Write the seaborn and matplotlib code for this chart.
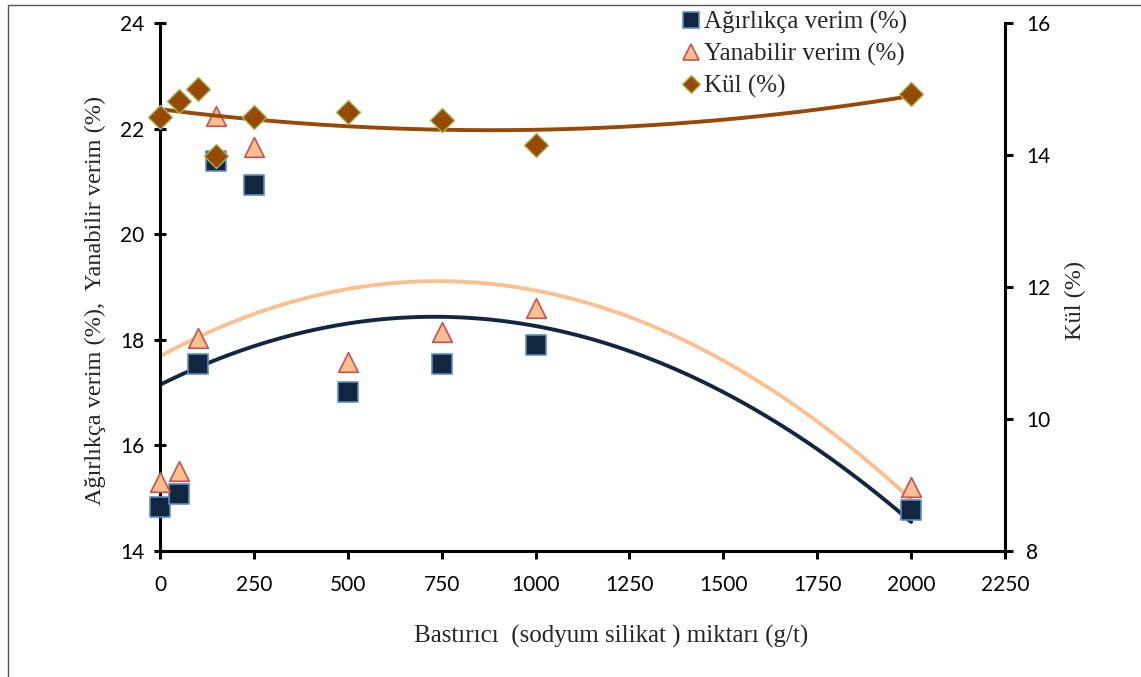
import numpy as np
import pandas as pd
import matplotlib
matplotlib.use("Agg")
import matplotlib.pyplot as plt
from matplotlib.lines import Line2D
from matplotlib.patches import Rectangle
import seaborn as sns

# Depressant dose (g/t)
dose = [0, 50, 100, 150, 250, 500, 750, 1000, 2000]
# Weight yield (%)
agirlikca = [14.83, 15.08, 17.54, 21.39, 20.93, 17.01, 17.54, 17.90, 14.78]
# Combustible yield (%)
yanabilir = [15.31, 15.51, 18.03, 22.24, 21.65, 17.58, 18.15, 18.60, 15.21]
# Ash content (%)
kul = [14.58, 14.82, 15.00, 13.98, 14.58, 14.65, 14.53, 14.15, 14.92]

x_ticks = [0, 250, 500, 750, 1000, 1250, 1500, 1750, 2000, 2250]
left_ticks = [14, 16, 18, 20, 22, 24]
right_ticks = [8, 10, 12, 14, 16]

df = pd.DataFrame({"dose": dose, "agirlikca": agirlikca,
                   "yanabilir": yanabilir, "kul": kul})

sns.set_theme(style="white")
plt.rcParams["font.family"] = ["Lato", "DejaVu Sans"]

NAVY = "#12263F"
NAVY_EDGE = "#5B8CC5"
PEACH = "#FAC08F"
PEACH_EDGE = "#C9504D"
BROWN = "#984807"
GREEN_EDGE = "#9BBB59"
SERIF = ["Liberation Serif", "DejaVu Serif"]

fig = plt.figure(figsize=(11.41, 6.77), dpi=100)
ax = fig.add_axes([160 / 1141, 1 - 551 / 677, 845 / 1141, 528 / 677])
ax2 = ax.twinx()

# quadratic trend lines
sns.regplot(data=df, x="dose", y="agirlikca", order=2, ci=None, scatter=False,
            ax=ax, line_kws=dict(color=NAVY, lw=2.8, zorder=2))
sns.regplot(data=df, x="dose", y="yanabilir", order=2, ci=None, scatter=False,
            ax=ax, line_kws=dict(color=PEACH, lw=2.8, zorder=2))
sns.regplot(data=df, x="dose", y="kul", order=2, ci=None, scatter=False,
            ax=ax2, line_kws=dict(color=BROWN, lw=2.8, zorder=2))

sns.scatterplot(data=df, x="dose", y="agirlikca", marker="s", s=190,
                color=NAVY, edgecolor=NAVY_EDGE, linewidth=1.2, ax=ax,
                zorder=3, clip_on=False)
sns.scatterplot(data=df, x="dose", y="yanabilir", marker="^", s=200,
                color=PEACH, edgecolor=PEACH_EDGE, linewidth=1.2, ax=ax,
                zorder=4, clip_on=False)
sns.scatterplot(data=df, x="dose", y="kul", marker="D", s=150,
                color=BROWN, edgecolor=GREEN_EDGE, linewidth=1.0, ax=ax2,
                zorder=3, clip_on=False)

ax.set_xlim(0, 2250)
ax.set_ylim(14, 24)
ax2.set_ylim(8, 16)
ax.set_xticks(x_ticks)
ax.set_yticks(left_ticks)
ax2.set_yticks(right_ticks)
ax.set_xlabel("")
ax.set_ylabel("")
ax2.set_ylabel("")

for a in (ax, ax2):
    a.set_facecolor("none")
    a.spines["top"].set_visible(False)
    for s in ("left", "right", "bottom"):
        a.spines[s].set_color("black")
        a.spines[s].set_linewidth(2.2)
    a.grid(False)
ax.spines["right"].set_visible(False)
ax2.spines["left"].set_visible(False)
ax2.spines["bottom"].set_visible(False)

ax.tick_params(axis="both", direction="out", length=6, width=2.2,
               labelsize=15, colors="black")
ax.tick_params(axis="y", left=True, direction="inout", length=9, pad=7)
ax.tick_params(axis="x", bottom=True, pad=11)
ax2.tick_params(axis="y", direction="out", right=True, length=6, width=2.2,
                labelsize=15, colors="black", pad=9)
ax.set_xticklabels([str(v) for v in x_ticks])

fig.text(611 / 1141, 1 - 636 / 677, "Bastırıcı  (sodyum silikat ) miktarı (g/t)",
         ha="center", va="center", fontsize=18, family=SERIF)
fig.text(95 / 1141, 1 - 300 / 677, "Ağırlıkça verim (%),  Yanabilir verim (%)",
         ha="center", va="center", rotation=90, fontsize=17.5, family=SERIF)
fig.text(1075 / 1141, 1 - 300 / 677, "Kül (%)",
         ha="center", va="center", rotation=90, fontsize=17.5, family=SERIF)

handles = [
    Line2D([], [], ls="none", marker="s", ms=11, mfc=NAVY, mec=NAVY_EDGE, mew=1.2),
    Line2D([], [], ls="none", marker="^", ms=12, mfc=PEACH, mec=PEACH_EDGE, mew=1.2),
    Line2D([], [], ls="none", marker="D", ms=9, mfc=BROWN, mec=GREEN_EDGE, mew=1.0),
]
labels = ["Ağırlıkça verim (%)", "Yanabilir verim (%)", "Kül (%)"]
leg = fig.legend(handles, labels, loc="upper left",
                 bbox_to_anchor=(682 / 1141, 1 - 11 / 677), frameon=False,
                 prop={"family": SERIF, "size": 18}, handlelength=0.7,
                 handletextpad=0.2, labelspacing=0.36, borderaxespad=0,
                 borderpad=0)

# outer frame of the figure
fig.patches.append(Rectangle((8 / 1141, -0.01), 1.0, 1 - 5 / 677 + 0.01,
                             transform=fig.transFigure, fill=False,
                             edgecolor="#555555", lw=1.0, clip_on=False))

fig.savefig("out.png", dpi=100)
